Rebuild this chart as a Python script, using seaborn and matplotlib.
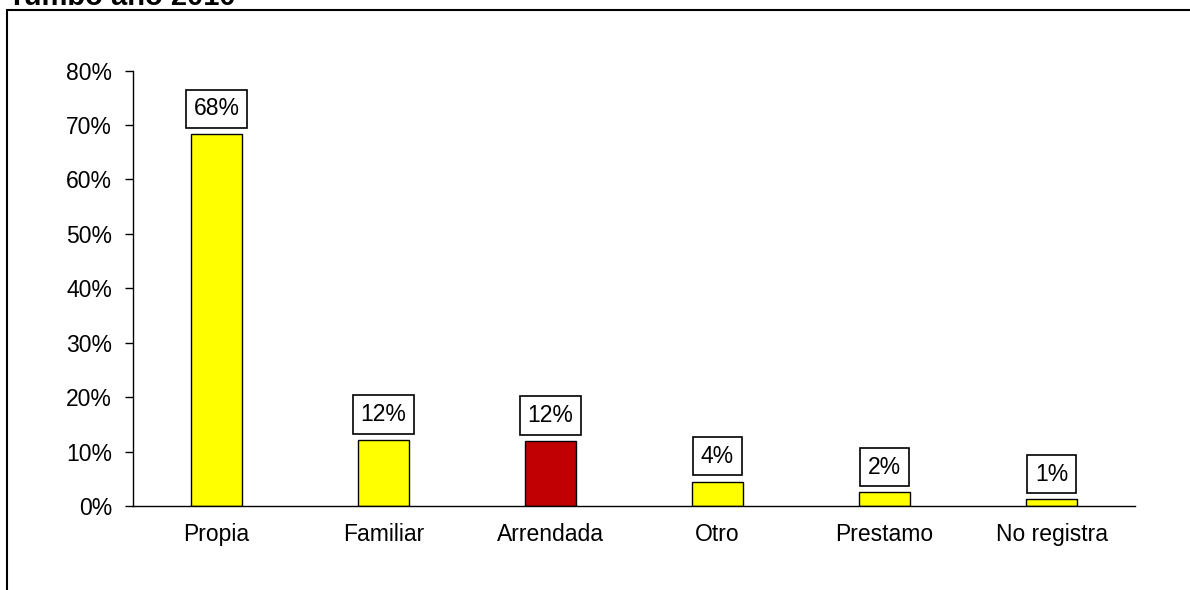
import matplotlib
matplotlib.use("Agg")
import matplotlib.pyplot as plt
import seaborn as sns
import pandas as pd
import numpy as np
from matplotlib.patches import Rectangle

# Data
categorias = ["Propia", "Familiar", "Arrendada", "Otro", "Prestamo", "No registra"]
valores = [0.683, 0.121, 0.120, 0.045, 0.025, 0.012]
etiquetas = ["68%", "12%", "12%", "4%", "2%", "1%"]
colores = ["#FFFF00", "#FFFF00", "#C00000", "#FFFF00", "#FFFF00", "#FFFF00"]
yticks = [0, 0.1, 0.2, 0.3, 0.4, 0.5, 0.6, 0.7, 0.8]

df = pd.DataFrame({"categoria": categorias, "valor": valores})

sns.set_style("white")
plt.rcParams["font.family"] = ["Liberation Sans", "DejaVu Sans"]
plt.rcParams["text.color"] = "black"
plt.rcParams["xtick.color"] = "black"
plt.rcParams["ytick.color"] = "black"

fs = 16.5

fig = plt.figure(figsize=(11.9, 5.9), dpi=100)
ax = fig.add_axes([133 / 1190, 1 - 506 / 590, (1135 - 133) / 1190, (506 - 70.5) / 590])

sns.barplot(data=df, x="categoria", y="valor", hue="categoria",
            palette=colores, saturation=1, legend=False, width=0.31,
            edgecolor="black", linewidth=1, ax=ax)

# data labels in boxes
for i, (v, t) in enumerate(zip(valores, etiquetas)):
    ax.annotate(t, (i, v), xytext=(0, 10), textcoords="offset points",
                ha="center", va="bottom", fontsize=fs,
                bbox=dict(boxstyle="square,pad=0.34", fc="white", ec="black", lw=1.2))

ax.set_ylim(0, 0.8)
ax.set_xlim(-0.5, len(categorias) - 0.5)
ax.set_yticks(yticks)
ax.set_yticklabels([f"{int(round(y * 100))}%" for y in yticks], fontsize=fs)
ax.set_xticks(range(len(categorias)))
ax.set_xticklabels(categorias, fontsize=fs)
ax.set_xticks(np.arange(-0.5, len(categorias)), minor=True)
ax.tick_params(axis="x", which="major", length=0, pad=12)
ax.tick_params(axis="x", which="minor", length=6, width=1, direction="out", color="black")
ax.tick_params(axis="y", length=6, width=1, direction="out", color="black", pad=9, left=True)
ax.set_xlabel("")
ax.set_ylabel("")

for s in ["top", "right"]:
    ax.spines[s].set_visible(False)
for s in ["left", "bottom"]:
    ax.spines[s].set_color("black")
    ax.spines[s].set_linewidth(1)

# outer chart frame (only top and left visible in the crop)
fig.patches.append(Rectangle((7 / 1190, -0.1), 1.2, 1 - 10 / 590 + 0.1,
                             transform=fig.transFigure, fill=False,
                             ec="black", lw=1.5, clip_on=False))

# title, mostly cut off at the top of the image as in the reference
fig.text(8 / 1190, 1 - 5 / 590, "Tumbo año 2010", fontsize=21, fontweight="bold",
         ha="left", va="baseline")

fig.savefig("out.png", dpi=100, facecolor="white")
